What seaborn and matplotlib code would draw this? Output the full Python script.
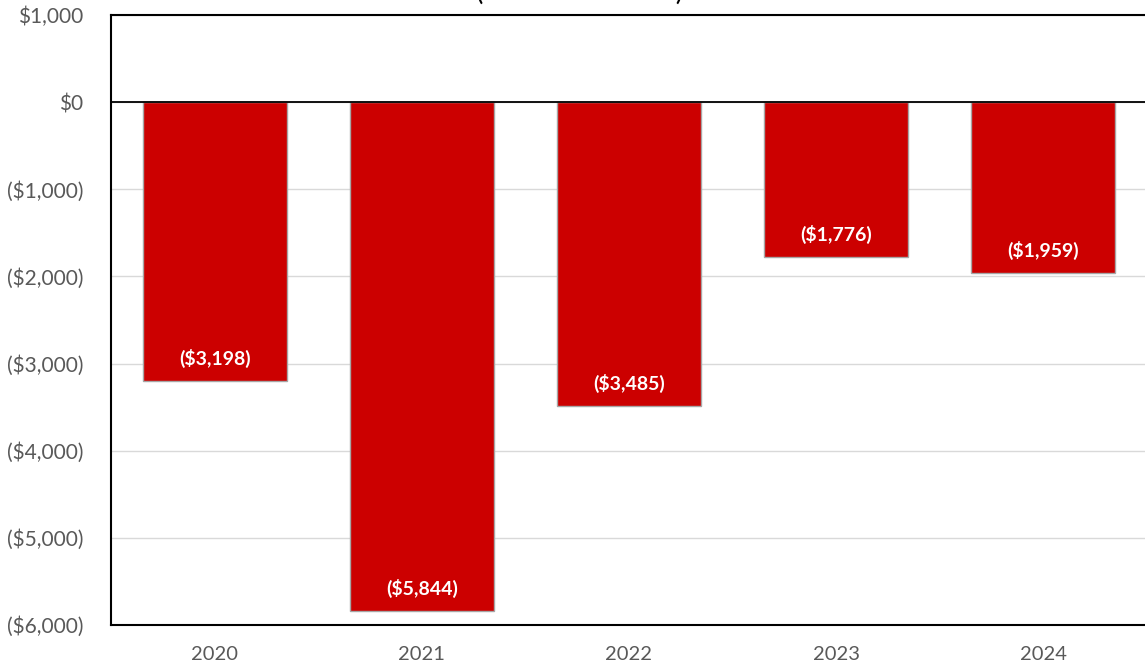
import matplotlib
matplotlib.use("Agg")
import matplotlib.pyplot as plt
import seaborn as sns
import pandas as pd
from matplotlib.ticker import FuncFormatter, MultipleLocator

years = ["2020", "2021", "2022", "2023", "2024"]
values = [-3198, -5844, -3485, -1776, -1959]

sns.set_theme(style="white")
plt.rcParams['font.family'] = ['Lato', 'DejaVu Sans']

fig = plt.figure(figsize=(11.45, 6.66), dpi=100)
ax = fig.add_axes([111/1145, 1-625/666, (1147-111)/1145, (625-15)/666])

df = pd.DataFrame({"year": years, "value": values})
sns.barplot(data=df, x="year", y="value", ax=ax, color="#CC0000", saturation=1,
            width=0.695, edgecolor="#A6A6A6", linewidth=1, zorder=3)

ax.set_ylim(-6000, 1000)
ax.set_xlim(-0.5, 4.5)
ax.yaxis.set_major_locator(MultipleLocator(1000))

def fmt(v, pos):
    v = int(round(v))
    if v < 0:
        return f"(${-v:,})"
    return f"${v:,}"
ax.yaxis.set_major_formatter(FuncFormatter(fmt))

ax.grid(axis="y", color="#D9D9D9", linewidth=1, zorder=0)
ax.axhline(0, color="black", linewidth=1.3, zorder=4)
for s in ["left", "bottom", "top"]:
    ax.spines[s].set_visible(True)
    ax.spines[s].set_color("black")
    ax.spines[s].set_linewidth(1.5)
ax.spines["right"].set_visible(False)

ax.tick_params(axis="y", length=0, pad=20, labelsize=15, labelcolor="#595959")
ax.tick_params(axis="x", length=0, pad=15, labelsize=14.5, labelcolor="#595959")
ax.set_xlabel("")
ax.set_ylabel("")

for c in ax.containers:
    labels = [fmt(v, None) for v in c.datavalues]
    ax.bar_label(c, labels=labels, label_type="edge", padding=-23, color="white",
                 fontweight="bold", fontsize=14, zorder=5)

fig.text(580/1145, 1 + 9/666, "(                           )",
         ha="center", va="center", fontsize=20, color="black")

fig.savefig("out.png", dpi=100)
